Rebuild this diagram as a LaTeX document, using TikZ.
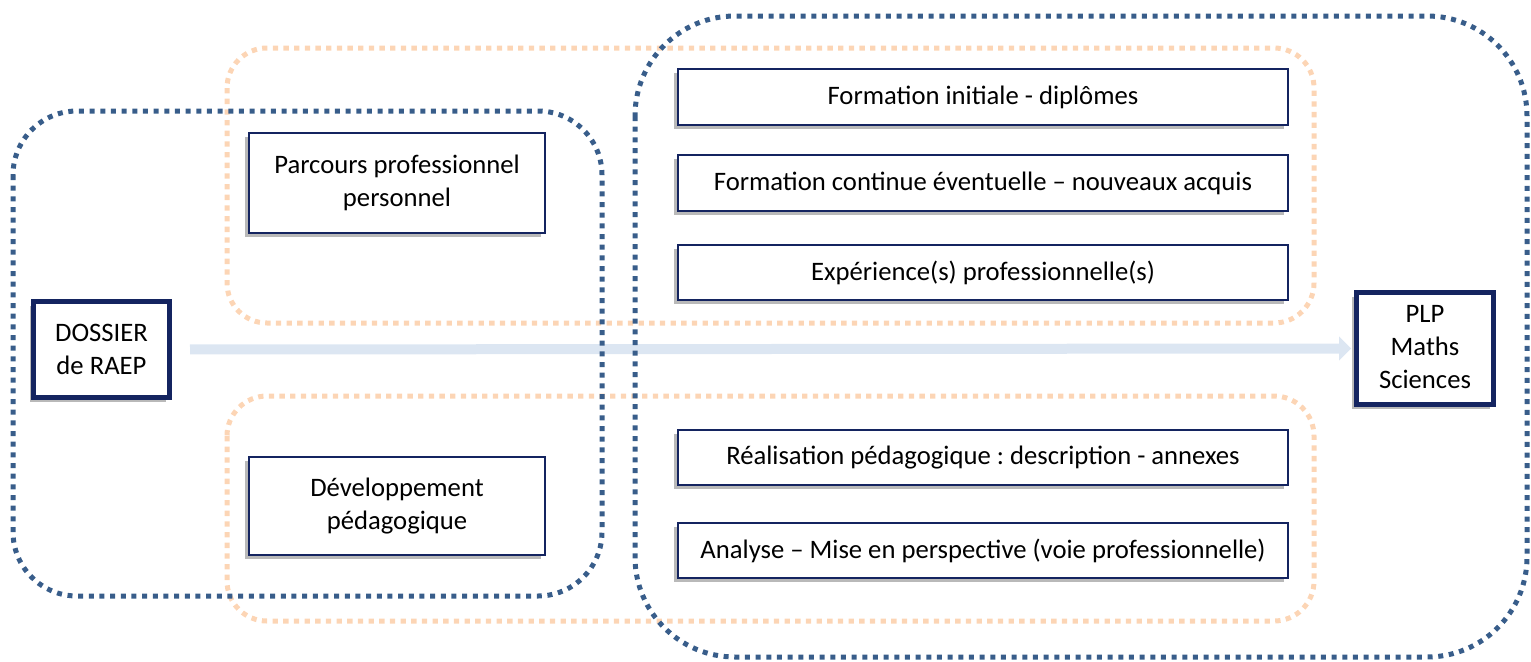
\documentclass[tikz,border=0pt]{standalone}
\usepackage{fontspec}
\setmainfont{Carlito}
\usetikzlibrary{arrows.meta,shadows}
\definecolor{dotblue}{RGB}{56,93,138}
\definecolor{dotorange}{RGB}{252,213,181}
\definecolor{navy}{RGB}{20,36,96}
\definecolor{arrowblue}{RGB}{220,230,242}
\frenchspacing
\begin{document}
\begin{tikzpicture}[x=0.75pt,y=-0.75pt,
  every node/.style={font=\fontsize{20pt}{24.75pt}\selectfont, text=black, align=center, inner sep=0pt},
  bluedots/.style={draw=dotblue, line width=3.75pt, dash pattern=on 3.75pt off 4.25pt},
  orangedots/.style={draw=dotorange, line width=3.75pt, dash pattern=on 4pt off 4pt},
  infobox/.style={draw=navy, line width=1.5pt, fill=white,
    drop shadow={shadow xshift=-3pt, shadow yshift=-3pt, fill=gray!55, opacity=1}},
  endbox/.style={draw=navy, line width=3.75pt, fill=white,
    drop shadow={shadow xshift=-3pt, shadow yshift=-3pt, fill=gray!55, opacity=1}},
  flow/.style={draw=arrowblue, line width=7.5pt, -{Triangle[length=9pt,width=17.5pt]}}
]
\path[use as bounding box] (0,0) rectangle (1531,661);

% end boxes
\node[endbox, minimum width=102pt, minimum height=72pt] (dossier) at (101.5,349.5) {DOSSIER\\de RAEP};
\node[endbox, minimum width=103pt, minimum height=84pt] (plp) at (1425,348.5) {\raisebox{-3pt}{\begin{tabular}{@{}c@{}}PLP\\Maths\\Sciences\end{tabular}}};

% arrow
\draw[flow, shorten <=13.5pt, shorten >=2pt] (dossier.east) -- (plp.west);

% dotted groups
\draw[orangedots, rounded corners=30pt] (227,48) rectangle (1314,323);
\draw[orangedots, rounded corners=30pt] (227,396) rectangle (1314,621);
\draw[bluedots, rounded corners=48pt] (13,111) rectangle (602,596);
\draw[bluedots, rounded corners=75pt] (635,16) rectangle (1527,657);

% boxes
\node[infobox, minimum width=222pt, minimum height=75pt] (parcours) at (397,183) {Parcours professionnel\\personnel};
\node[infobox, minimum width=222pt, minimum height=73.5pt] (dev) at (397,506) {Développement\\pédagogique};
\node[infobox, minimum width=457.5pt, minimum height=42pt] (f1) at (983,97) {Formation initiale - diplômes};
\node[infobox, minimum width=457.5pt, minimum height=42pt] (f2) at (983,183) {Formation continue éventuelle – nouveaux acquis};
\node[infobox, minimum width=457.5pt, minimum height=41.25pt] (f3) at (983,272.5) {Expérience(s) professionnelle(s)};
\node[infobox, minimum width=457.5pt, minimum height=41.25pt] (r1) at (983,457.5) {Réalisation pédagogique : description - annexes};
\node[infobox, minimum width=457.5pt, minimum height=41.25pt] (r2) at (983,550.5) {Analyse – Mise en perspective (voie professionnelle)};
\end{tikzpicture}
\end{document}
